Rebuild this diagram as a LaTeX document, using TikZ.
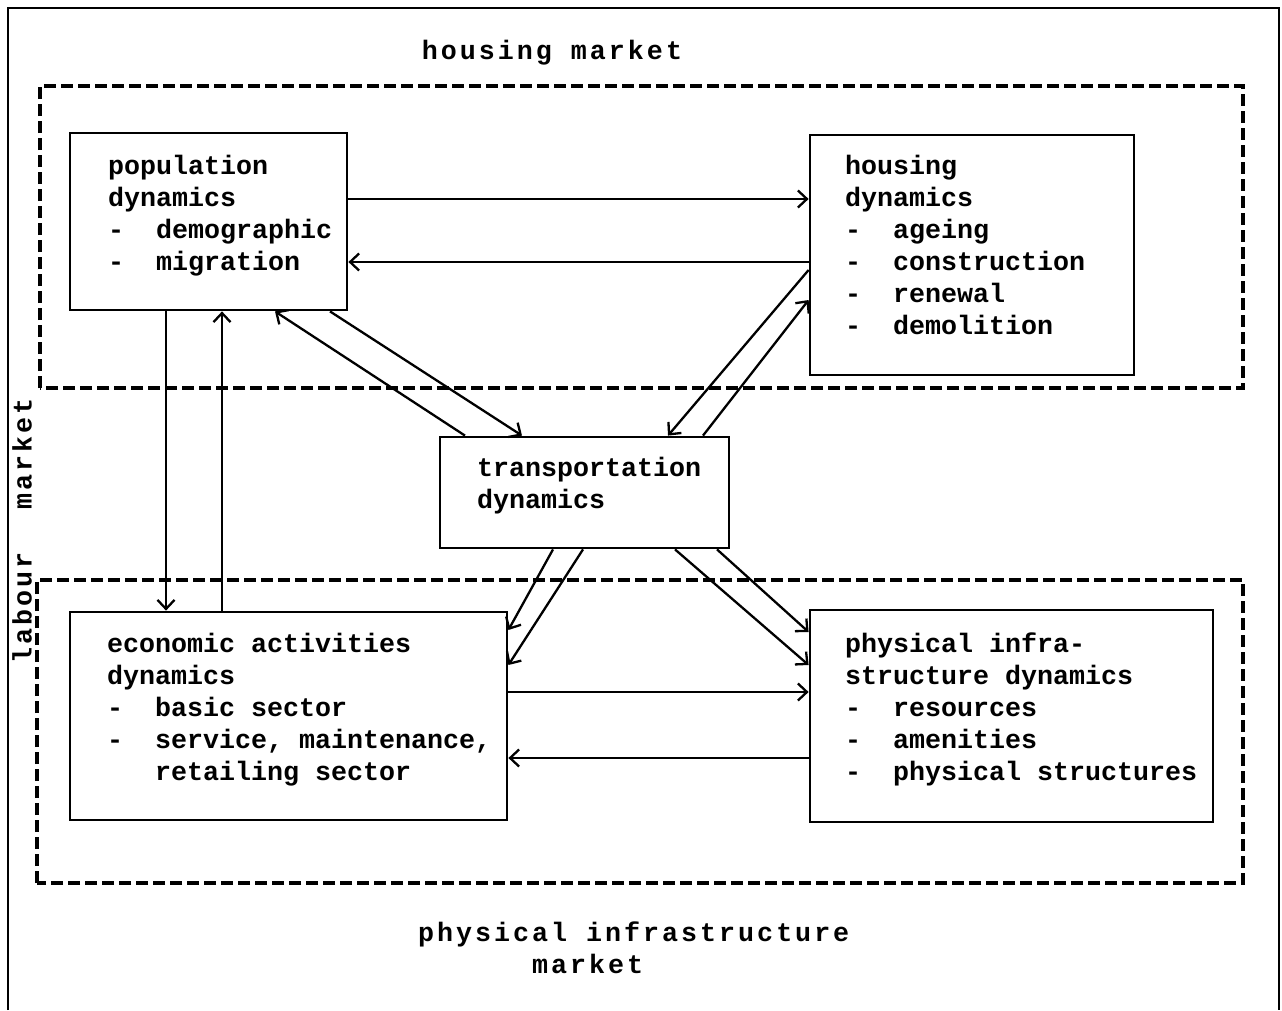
\documentclass[tikz,border=0pt]{standalone}
\usepackage{fontspec}
\setmainfont{Liberation Mono}
\usetikzlibrary{arrows.meta}
\begin{document}
\begin{tikzpicture}[x=1pt,y=-1pt,
  txt/.style={font=\bfseries\fontsize{26.67}{32}\selectfont, inner sep=0pt, align=left, anchor=north west},
  lbl/.style={font=\bfseries\fontsize{26.67}{32}\selectfont\addfontfeature{LetterSpace=11.25}, inner sep=0pt},
  boxnode/.style={draw, line width=2.8pt, minimum width=#1, inner sep=0pt},
  frame/.style={line width=2.6pt},
  mkt/.style={line width=3.2pt, dash pattern=on 12pt off 5pt},
  arr/.style={line width=2.3pt, -{Straight Barb[length=9pt,width=17pt,line width=2.3pt]}},
]
\useasboundingbox (0,0) rectangle (1282,1010);
\draw[frame] (8,1010) -- (8,8) -- (1279,8) -- (1279,1010);
% market regions
\draw[mkt] (40,388) -- (40,86) -- (1243,86) -- (1243,388) -- cycle;
\draw[mkt] (37,883) -- (37,580) -- (1243,580) -- (1243,883) -- cycle;
% labels
\node[lbl] (hm) at (552,53) {housing market};
\node[lbl, anchor=base west] (pim1) at (418,941) {physical infrastructure};
\node[lbl, anchor=base west] (pim2) at (532,973) {market};
\node[lbl, rotate=90] (lm) at (22,531) {labour\ \ \,market};
% boxes
\node[boxnode=277pt, minimum height=177pt] (pop) at (208.5,221.5) {};
\node[boxnode=324pt, minimum height=240pt] (hous) at (972,255) {};
\node[boxnode=289pt, minimum height=111pt] (trans) at (584.5,492.5) {};
\node[boxnode=437pt, minimum height=208pt] (econ) at (288.5,716) {};
\node[boxnode=403pt, minimum height=212pt] (phys) at (1011.5,716) {};
% texts
\newcommand{\dd}{\makebox[48pt][l]{-}}
\node[txt] (popt) at (108,155) {population\\dynamics\\\dd demographic\\\dd migration};
\node[txt] (houst) at (845,155) {housing\\dynamics\\\dd ageing\\\dd construction\\\dd renewal\\\dd demolition};
\node[txt] (transt) at (477,457) {transportation\\dynamics};
\node[txt] (econt) at (107,633) {economic activities\\dynamics\\\dd basic sector\\\dd service, maintenance,\\\makebox[48pt]{}retailing sector};
\node[txt] (physt) at (845,633) {physical infra-\\structure dynamics\\\dd resources\\\dd amenities\\\dd physical structures};
% connectors
\draw[arr] (pop.east |- 0,199) -- (hous.west |- 0,199);
\draw[arr] (hous.west |- 0,262) -- (pop.east |- 0,262);
\draw[arr] (pop.south -| 166,0) -- (econ.north -| 166,0);
\draw[arr] (econ.north -| 222,0) -- (pop.south -| 222,0);
\draw[arr] (trans.north -| 465,0) -- (pop.south -| 275,0);
\draw[arr] (pop.south -| 330,0) -- (trans.north -| 522,0);
\draw[arr] (hous.west |- 0,270) -- (trans.north -| 668,0);
\draw[arr] (trans.north -| 703,0) -- (hous.west |- 0,300);
\draw[arr] (trans.south -| 553,0) -- (econ.east |- 0,630);
\draw[arr] (trans.south -| 583,0) -- (econ.east |- 0,665);
\draw[arr] (trans.south -| 717,0) -- (phys.west |- 0,632);
\draw[arr] (trans.south -| 675,0) -- (phys.west |- 0,665);
\draw[arr] (econ.east |- 0,692) -- (phys.west |- 0,692);
\draw[arr] (phys.west |- 0,758) -- (econ.east |- 0,758);
\end{tikzpicture}
\end{document}
